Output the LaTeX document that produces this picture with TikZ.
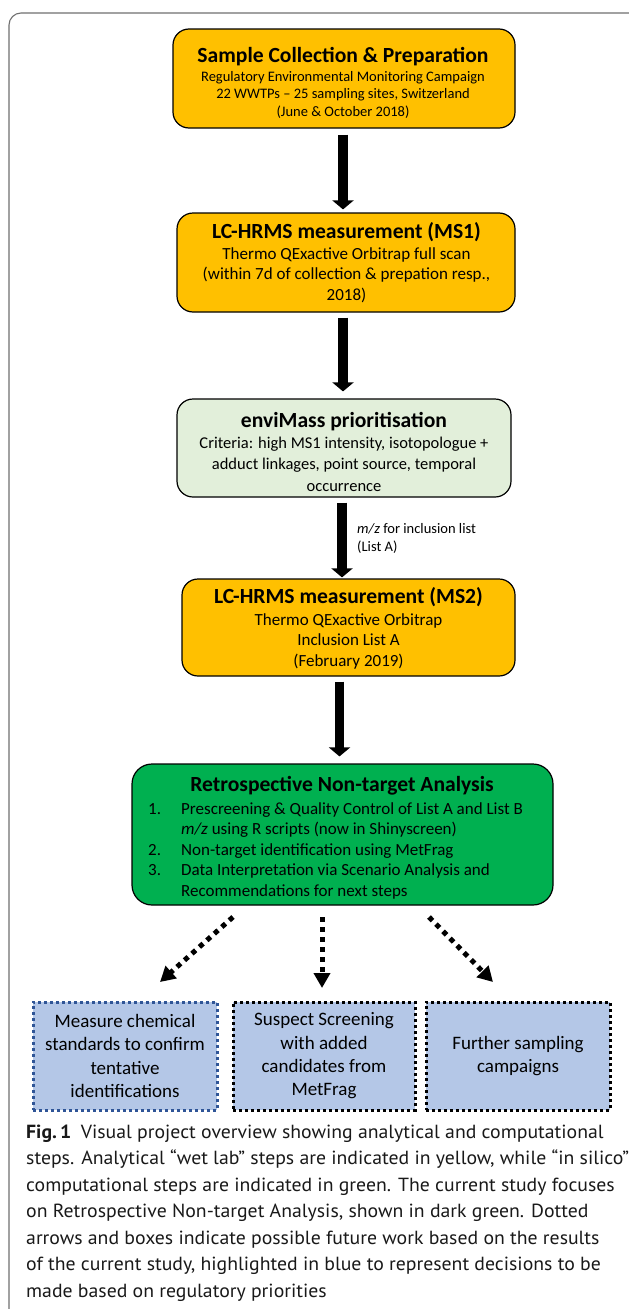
\documentclass[tikz,border=0pt]{standalone}
\usepackage{fontspec}
\setmainfont{Carlito}
\newfontfamily\capfont[FakeStretch=1.04]{PT Sans}
\usetikzlibrary{arrows.meta,calc}
\definecolor{orangebox}{HTML}{FFC000}
\definecolor{lightgreen}{HTML}{E2EFDA}
\definecolor{darkgreen}{HTML}{00B050}
\definecolor{bluebox}{HTML}{B4C7E7}
\definecolor{bluedot}{HTML}{2F5597}
\definecolor{framegray}{HTML}{707070}
\newcommand{\ttlfont}{\fontsize{21.6}{24}\selectfont\bfseries}
\begin{document}
\begin{tikzpicture}[x=1pt,y=-1pt,
  stepbox/.style={draw=black, line width=1.2pt, rounded corners=16pt, inner sep=0pt},
  txtline/.style={anchor=base, align=center, inner sep=0pt, text=black},
  bigarrow/.style={line width=9.5pt, -{Triangle[width=21pt,length=9pt]}},
  dotarrow/.style={line width=5pt, dash pattern=on 5pt off 5pt, -{Triangle[width=16pt,length=15pt]}},
  futurebox/.style={fill=bluebox, line width=3pt, dash pattern=on 3pt off 3pt, align=center,
     inner sep=0pt, minimum height=108pt, font=\fontsize{19}{23.3}\selectfont}]
\useasboundingbox (0,0) rectangle (629,1309);
\fill[white] (0,0) rectangle (629,1309);
% outer frame
\draw[framegray, line width=1.1pt, rounded corners=12pt] (9,1320) -- (9,13) -- (650,13);

% boxes
\node[stepbox, fill=orangebox, minimum width=342pt, minimum height=99pt] (b1) at (344,78.5) {};
\node[stepbox, fill=orangebox, minimum width=338pt, minimum height=99pt] (b2) at (346,262.5) {};
\node[stepbox, fill=lightgreen, minimum width=334pt, minimum height=98pt] (b3) at (344,448) {};
\node[stepbox, fill=orangebox, minimum width=333pt, minimum height=97pt] (b4) at (348.5,627.5) {};
\node[stepbox, fill=darkgreen, rounded corners=20pt, minimum width=421pt, minimum height=141pt] (b5) at (342.5,834.5) {};

% box texts (anchor base = baseline of the last line)
\node[txtline, font=\fontsize{14.5}{17.5}\selectfont] (t1) at (343,116)
  {{\ttlfont Sample Collection \& Preparation}\\[1.5pt]
   Regulatory Environmental Monitoring Campaign\\
   22 WWTPs -- 25 sampling sites, Switzerland\\
   (June \& October 2018)};
\node[txtline, font=\fontsize{17}{20.5}\selectfont] (t2) at (346.5,300)
  {{\ttlfont LC-HRMS measurement (MS1)}\\[0.5pt]
   Thermo QExactive Orbitrap full scan\\
   (within 7d of collection \& prepation resp.,\\
   2018)};
\node[txtline, font=\fontsize{16.5}{21.5}\selectfont] (t3) at (344,491)
  {{\ttlfont enviMass prioritisation}\\[-0.5pt]
   Criteria: high MS1 intensity, isotopologue +\\
   adduct linkages, point source, temporal\\
   occurrence};
\node[txtline, font=\fontsize{17}{20.5}\selectfont] (t4) at (348.5,666)
  {{\ttlfont LC-HRMS measurement (MS2)}\\[1.5pt]
   Thermo QExactive Orbitrap\\
   Inclusion List A\\
   (February 2019)};
\node[txtline] (t5) at (342,791) {\ttlfont Retrospective Non-target Analysis};
\node[txtline, anchor=base west, align=left, font=\fontsize{17}{20.5}\selectfont] (t5l) at (148,896)
  {\makebox[33pt][l]{1.}Prescreening \& Quality Control of List A and List B\\
   \hspace*{33pt}\textit{m/z} using R scripts (now in Shinyscreen)\\
   \makebox[33pt][l]{2.}Non-target identification using MetFrag\\
   \makebox[33pt][l]{3.}Data Interpretation via Scenario Analysis and\\
   \hspace*{33pt}Recommendations for next steps};

% solid arrows
\draw[bigarrow, shorten <=6pt, shorten >=3pt] ([xshift=-1pt]b1.south) -- ([xshift=-1pt]b1.south |- b2.north);
\draw[bigarrow, shorten <=5pt, shorten >=7pt] ([xshift=-3pt]b2.south) -- ([xshift=-3pt]b2.south |- b3.north);
\draw[bigarrow, shorten <=5pt, shorten >=1pt] ([xshift=-2pt]b3.south) -- ([xshift=-2pt]b3.south |- b4.north);
\draw[bigarrow, shorten <=5pt, shorten >=7pt] ([xshift=-9pt]b4.south) -- ([xshift=-9pt]b4.south |- b5.north);
\node[txtline, anchor=base west, align=left, font=\fontsize{14.5}{18}\selectfont] (lab) at (357,551)
  {\textit{m/z} for inclusion list\\(List A)};

% future boxes
\node[futurebox, draw=bluedot, minimum width=184pt] (f1) at (125,1056)
  {Measure chemical\\standards to confirm\\tentative\\identifications};
\node[futurebox, draw=black, minimum width=182pt] (f2) at (324,1056)
  {Suspect Screening\\with added\\candidates from\\MetFrag};
\node[futurebox, draw=black, minimum width=184pt] (f3) at (518,1056)
  {Further sampling\\campaigns};

% dotted arrows
\coordinate (d1s) at (233,917); \coordinate (d1e) at (160,982);
\coordinate (d2s) at (322,917); \coordinate (d2e) at (322,988);
\coordinate (d3s) at (429,917); \coordinate (d3e) at (493,982);
\draw[dotarrow] (d1s) -- (d1e);
\draw[dotarrow] (d2s) -- (d2e);
\draw[dotarrow] (d3s) -- (d3e);

% caption
\node[anchor=base west, align=left, inner sep=0pt, text=black!90,
      font=\capfont\fontsize{19}{26.5}\selectfont] (cap) at (26,1297)
  {\textbf{Fig.\,1}\enspace Visual project overview showing analytical and computational\\
   steps. Analytical “wet lab” steps are indicated in yellow, while “in silico”\\
   computational steps are indicated in green. The current study focuses\\
   on Retrospective Non-target Analysis, shown in dark green. Dotted\\
   arrows and boxes indicate possible future work based on the results\\
   of the current study, highlighted in blue to represent decisions to be\\
   made based on regulatory priorities};
\end{tikzpicture}
\end{document}
